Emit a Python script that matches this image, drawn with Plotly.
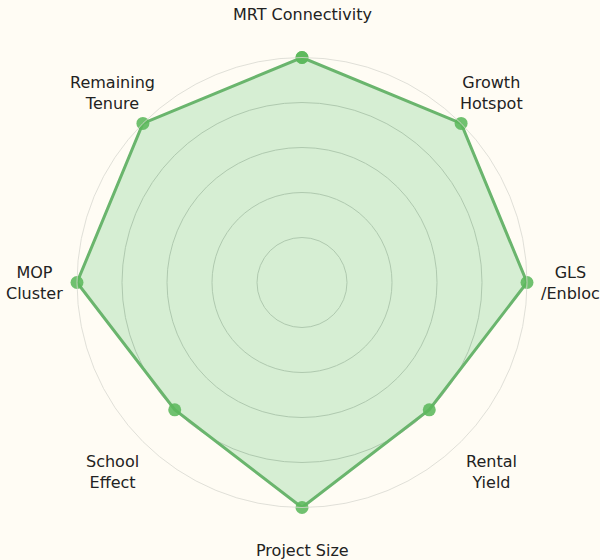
import math
import plotly.graph_objects as go

categories = ["MRT Connectivity", "Growth<br>Hotspot", "GLS<br>/Enbloc", "Rental<br>Yield",
              "Project Size", "School<br>Effect", "MOP<br>Cluster", "Remaining<br>Tenure"]
values = [5, 5, 5, 4, 5, 4, 5, 5]
grid_vals = [1, 2, 3, 4, 5]
r_max = 5

W, H = 600, 560
cx, cy, R = 302, 282.5, 225
label_r = 268

angles = [i * 360 / len(values) for i in range(len(values))]

fig = go.Figure()
fig.add_trace(go.Scatterpolar(
    r=values + values[:1],
    theta=angles + angles[:1],
    thetaunit="degrees",
    mode="lines+markers",
    fill="toself",
    fillcolor="rgba(118,205,137,0.3)",
    line=dict(color="#6ab56d", width=3),
    marker=dict(color="#5cb85c", size=13, opacity=0.88),
    hoverinfo="skip",
))

annotations = []
for a_deg, lab in zip(angles, categories):
    a = math.radians(a_deg)
    px = cx + label_r * math.sin(a)
    py = cy - label_r * math.cos(a)
    annotations.append(dict(
        x=px / W, y=1 - py / H, xref="paper", yref="paper",
        text=lab, showarrow=False, xanchor="center", yanchor="middle",
        font=dict(family="DejaVu Sans", size=16, color="#222222"),
    ))

fig.update_layout(
    width=W, height=H,
    margin=dict(l=0, r=0, t=0, b=0),
    paper_bgcolor="#fffcf4",
    plot_bgcolor="#fffcf4",
    showlegend=False,
    annotations=annotations,
    polar=dict(
        domain=dict(x=[(cx - R) / W, (cx + R) / W], y=[1 - (cy + R) / H, 1 - (cy - R) / H]),
        bgcolor="rgba(0,0,0,0)",
        radialaxis=dict(range=[0, r_max], tickvals=grid_vals, showticklabels=False,
                        ticks="", showline=False, gridcolor="#c8c8c0", gridwidth=0.8),
        angularaxis=dict(direction="clockwise", rotation=90, showticklabels=False,
                         ticks="", showgrid=False, showline=True,
                         linecolor="#d8d8d0", linewidth=0.8),
    ),
)

fig.write_html("out.html")
